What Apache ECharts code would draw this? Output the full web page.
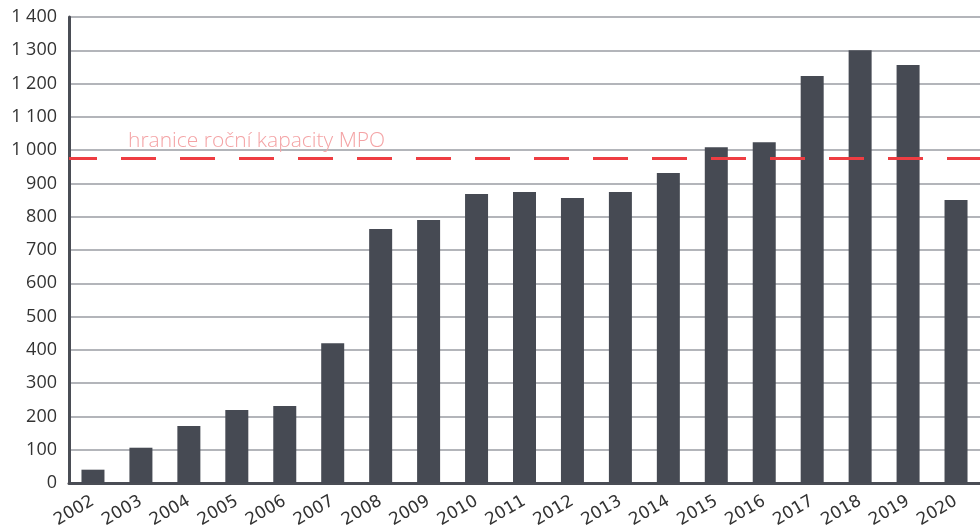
<!DOCTYPE html>
<html>
<head>
<meta charset="utf-8">
<script src="https://cdn.jsdelivr.net/npm/echarts@6/dist/echarts.min.js"></script>
<style>html,body{margin:0;padding:0;background:#fff}#c{width:980px;height:527px}</style>
</head>
<body>
<div id="c"></div>
<script>
var categories = ['2002','2003','2004','2005','2006','2007','2008','2009','2010','2011','2012','2013','2014','2015','2016','2017','2018','2019','2020'];
var values = [40, 106, 171, 219, 231, 420, 763, 790, 868, 874, 856, 874, 931, 1009, 1024, 1223, 1300, 1256, 850];
var capacityValue = 975;
var capacityLabel = 'hranice roční kapacity MPO';

var chart = echarts.init(document.getElementById('c'));
chart.setOption({
  animation: false,
  grid: {left: 69, right: 0, top: 17, bottom: 44, containLabel: false, outerBoundsMode: 'none'},
  xAxis: {
    type: 'category',
    data: categories,
    axisLine: {show: true, lineStyle: {color: '#4a4d55', width: 3}},
    axisTick: {show: false},
    axisLabel: {rotate: 30, color: '#333', fontSize: 17, fontFamily: 'DejaVu Sans', margin: 17, interval: 0}
  },
  yAxis: {
    type: 'value',
    min: 0, max: 1400, interval: 100,
    axisLine: {show: true, lineStyle: {color: '#4a4d55', width: 3}},
    axisTick: {show: false},
    splitLine: {lineStyle: {color: '#9a9da3', width: 1.5}},
    axisLabel: {
      color: '#333', fontSize: 18, fontFamily: 'Open Sans', margin: 12,
      formatter: function (v) { return String(v).replace(/\B(?=(\d{3})+(?!\d))/g, ' '); }
    }
  },
  series: [{
    type: 'bar',
    data: values,
    barWidth: 23,
    itemStyle: {color: '#464a53'},
    markLine: {
      silent: true,
      symbol: 'none',
      data: [{yAxis: capacityValue}],
      lineStyle: {color: '#ee3d42', width: 3, type: [35, 24], dashOffset: 7},
      label: {
        show: true,
        position: 'insideStartTop',
        formatter: capacityLabel,
        color: '#f4a3a5',
        fontSize: 21,
        fontWeight: 300,
        fontFamily: 'Open Sans',
        padding: [0, 0, 0, 52],
        distance: 7
      },
      emphasis: {disabled: true}
    }
  }]
});
</script>
</body>
</html>
